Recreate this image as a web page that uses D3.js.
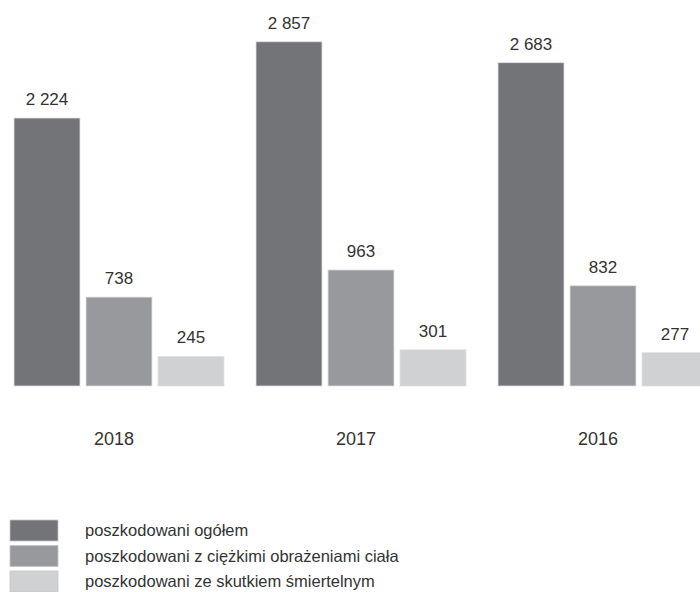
<!DOCTYPE html>
<html>
<head>
<meta charset="utf-8">
<script src="https://cdn.jsdelivr.net/npm/d3@7"></script>
<style>
body { margin: 0; background: #fff; }
text { font-family: "Liberation Sans", Arial, sans-serif; fill: #333; }
</style>
</head>
<body>
<script>
var width = 700;
var height = 592;

// data
var years = ["2018", "2017", "2016"];
var seriesNames = ["poszkodowani ogółem", "poszkodowani z ciężkimi obrażeniami ciała", "poszkodowani ze skutkiem śmiertelnym"];
var ogolem = [2224, 2857, 2683];
var ciezkie = [738, 963, 832];
var smiertelne = [245, 301, 277];
var colors = ["#737478", "#98999d", "#d0d1d3"];

var seriesValues = [ogolem, ciezkie, smiertelne];

var svg = d3.select("body")
.append("svg")
.attr("width", width)
.attr("height", height);

var x0 = d3.scaleBand()
.domain(years)
.range([14, 708])
.paddingInner(32 / 242)
.paddingOuter(0);

var x1 = d3.scaleBand()
.domain(d3.range(seriesNames.length))
.range([0, x0.bandwidth()])
.paddingInner(6 / 72)
.paddingOuter(0);

var y = d3.scaleLinear()
.domain([0, 3000])
.range([386, 24.5]);

var fmt = d3.formatLocale({decimal: ",", thousands: " ", grouping: [3], currency: ["", " zł"]}).format(",d");

var groups = svg.selectAll(".year")
.data(years)
.enter()
.append("g")
.attr("class", "year")
.attr("transform", function(d){ return "translate(" + x0(d) + ",0)"; });

groups.selectAll("rect")
.data(function(d, i){
	return seriesValues.map(function(s, j){ return {s: j, v: s[i]}; });
})
.enter()
.append("rect")
.attr("x", function(d){ return x1(d.s); })
.attr("y", function(d){ return y(d.v); })
.attr("width", x1.bandwidth())
.attr("height", function(d){ return y(0) - y(d.v); })
.attr("fill", function(d){ return colors[d.s]; })
.attr("stroke", "#e2e2e4")
.attr("stroke-width", 0.8);

groups.selectAll(".val")
.data(function(d, i){
	return seriesValues.map(function(s, j){ return {s: j, v: s[i]}; });
})
.enter()
.append("text")
.attr("class", "val")
.attr("x", function(d){ return x1(d.s) + x1.bandwidth() / 2; })
.attr("y", function(d){ return y(d.v) - 13; })
.attr("text-anchor", "middle")
.attr("font-size", "17px")
.text(function(d){ return fmt(d.v); });

// year labels (bottom axis without line/ticks)
var axis = d3.axisBottom(x0).tickSize(0).tickPadding(0);
var ax = svg.append("g")
.attr("transform", "translate(-5,432)")
.call(axis);
ax.select(".domain").remove();
ax.selectAll("text")
.attr("dy", "0.71em")
.attr("font-size", "18px")
.attr("font-family", "Liberation Sans Narrow, Liberation Sans, Arial, sans-serif")
.attr("fill", "#333");

// legend
var legend = svg.selectAll(".legend")
.data(seriesNames)
.enter()
.append("g")
.attr("class", "legend")
.attr("transform", function(d, i){ return "translate(10," + (520 + i * 25.5) + ")"; });

legend.append("rect")
.attr("width", 48)
.attr("height", 21)
.attr("fill", function(d, i){ return colors[i]; })
.attr("stroke", "#c6c6c8")
.attr("stroke-width", 0.8);

legend.append("text")
.attr("x", 75)
.attr("y", 16)
.attr("font-size", "16.5px")
.text(function(d){ return d; });
</script>
</body>
</html>
